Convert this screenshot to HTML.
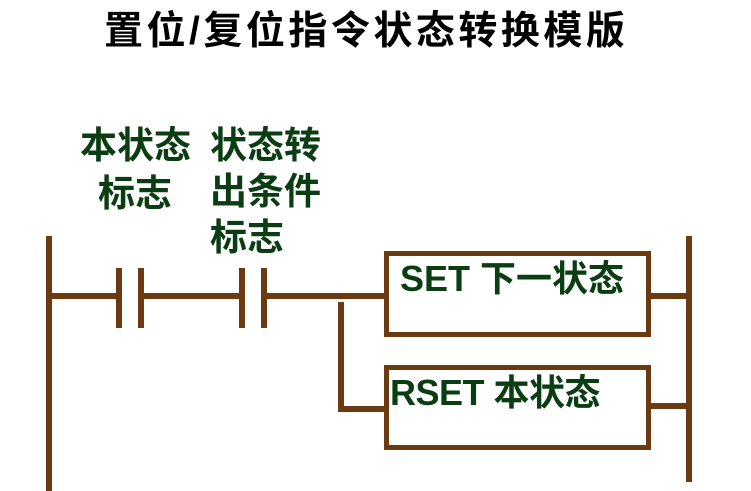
<!DOCTYPE html>
<html><head><meta charset="utf-8"><style>
body{margin:0;width:751px;height:491px;background:#fff;position:relative;overflow:hidden}
.t{position:absolute;font-family:"Liberation Sans","Noto Sans CJK SC",sans-serif;font-weight:bold;white-space:nowrap;line-height:1}
.g{color:#0b3d12;font-size:37px}
.b{position:absolute;background:#6b3a10}
.box{position:absolute;border:5px solid #6b3a10;box-sizing:border-box;background:#fff}
</style></head><body>
<div class="t" style="left:104px;top:12px;font-size:39px;letter-spacing:3.5px;color:#000">置位/复位指令状态转换模版</div>
<div class="t g" style="left:80px;top:127px">本状态</div>
<div class="t g" style="left:98px;top:175px">标志</div>
<div class="t g" style="left:210px;top:127px">状态转</div>
<div class="t g" style="left:210px;top:173px">出条件</div>
<div class="t g" style="left:210px;top:219px">标志</div>

<div class="b" style="left:46px;top:236px;width:6px;height:255px"></div>
<div class="b" style="left:686px;top:236px;width:6px;height:246px"></div>
<div class="b" style="left:48px;top:293px;width:70px;height:6px"></div>
<div class="b" style="left:116px;top:268px;width:6px;height:60px"></div>
<div class="b" style="left:138px;top:268px;width:6px;height:60px"></div>
<div class="b" style="left:140px;top:293px;width:102px;height:6px"></div>
<div class="b" style="left:239px;top:268px;width:6px;height:60px"></div>
<div class="b" style="left:261px;top:268px;width:6px;height:60px"></div>
<div class="b" style="left:263px;top:293px;width:124px;height:6px"></div>
<div class="b" style="left:338px;top:302px;width:6px;height:110px"></div>
<div class="b" style="left:338px;top:406px;width:50px;height:6px"></div>
<div class="b" style="left:648px;top:293px;width:42px;height:6px"></div>
<div class="b" style="left:648px;top:403px;width:42px;height:6px"></div>

<div class="box" style="left:384px;top:251px;width:267px;height:86px"></div>
<div class="box" style="left:384px;top:365px;width:267px;height:85px"></div>
<div class="t g" style="left:400px;top:261px;font-size:36px">SET 下一状态</div>
<div class="t g" style="left:390px;top:375px;font-size:36px;letter-spacing:-0.5px">RSET 本状态</div>
</body></html>
